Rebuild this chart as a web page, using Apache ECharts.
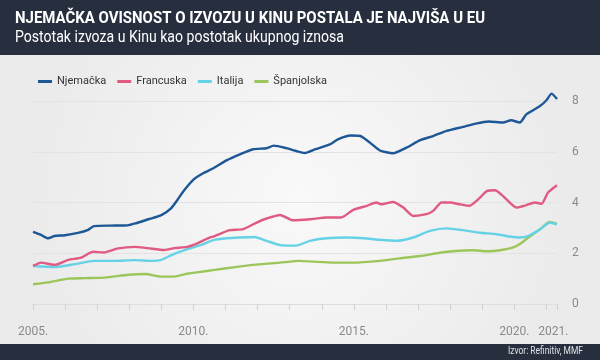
<!DOCTYPE html>
<html>
<head>
<meta charset="utf-8">
<script src="https://cdn.jsdelivr.net/npm/echarts@6/dist/echarts.min.js"></script>
<style>
html,body{margin:0;padding:0;background:#f0f0f0;}
#c{width:600px;height:360px;}
</style>
</head>
<body>
<div id="c"></div>
<script>
var titleText = 'NJEMAČKA OVISNOST O IZVOZU U KINU POSTALA JE NAJVIŠA U EU';
var subtitleText = 'Postotak izvoza u Kinu kao postotak ukupnog iznosa';
var sourceText = 'Izvor: Refinitiv, MMF';
var seriesNames = ['Njemačka', 'Francuska', 'Italija', 'Španjolska'];
var xTickLabels = [2005, 2010, 2015, 2020, 2021];
var yTicks = [0, 2, 4, 6, 8];

var germany = [[2005.0,2.84],[2005.25,2.72],[2005.47,2.59],[2005.67,2.68],[2006.0,2.71],[2006.4,2.8],[2006.7,2.91],[2006.9,3.07],[2007.4,3.09],[2007.95,3.10],[2008.2,3.18],[2008.6,3.34],[2009.0,3.5],[2009.3,3.77],[2009.5,4.1],[2009.7,4.46],[2010.0,4.9],[2010.3,5.15],[2010.62,5.35],[2011.03,5.66],[2011.45,5.9],[2011.86,6.1],[2012.28,6.14],[2012.5,6.24],[2012.9,6.14],[2013.2,6.03],[2013.47,5.95],[2013.8,6.1],[2014.25,6.29],[2014.5,6.49],[2014.9,6.64],[2015.2,6.62],[2015.5,6.36],[2015.81,6.05],[2016.22,5.94],[2016.64,6.16],[2017.05,6.45],[2017.47,6.62],[2017.89,6.82],[2018.4,6.98],[2018.8,7.11],[2019.2,7.19],[2019.65,7.15],[2019.9,7.24],[2020.17,7.15],[2020.38,7.48],[2020.8,7.8],[2021.0,8.03],[2021.16,8.29],[2021.33,8.08]];

var france = [[2005.0,1.5],[2005.26,1.63],[2005.67,1.54],[2006.1,1.74],[2006.5,1.83],[2006.87,2.06],[2007.2,2.03],[2007.65,2.19],[2008.17,2.25],[2008.58,2.2],[2009.1,2.13],[2009.4,2.2],[2009.8,2.25],[2010.1,2.38],[2010.45,2.59],[2010.62,2.66],[2011.13,2.91],[2011.55,2.95],[2011.97,3.21],[2012.28,3.37],[2012.7,3.51],[2013.1,3.3],[2013.63,3.34],[2014.15,3.41],[2014.6,3.41],[2014.98,3.71],[2015.4,3.87],[2015.7,4.0],[2015.85,3.93],[2016.22,4.02],[2016.54,3.8],[2016.85,3.47],[2017.26,3.54],[2017.47,3.67],[2017.73,4.0],[2018.0,4.0],[2018.3,3.93],[2018.6,3.87],[2018.93,4.19],[2019.14,4.45],[2019.4,4.48],[2019.65,4.25],[2020.07,3.8],[2020.38,3.9],[2020.64,4.0],[2020.85,3.95],[2021.05,4.39],[2021.33,4.68]];

var italy = [[2005.0,1.5],[2005.67,1.46],[2006.3,1.57],[2006.9,1.7],[2007.55,1.7],[2008.17,1.73],[2008.7,1.7],[2009.0,1.74],[2009.3,1.92],[2009.72,2.12],[2010.24,2.33],[2010.62,2.52],[2011.03,2.59],[2011.45,2.62],[2011.9,2.64],[2012.28,2.49],[2012.7,2.32],[2013.2,2.3],[2013.63,2.49],[2014.15,2.59],[2014.77,2.62],[2015.4,2.58],[2015.81,2.53],[2016.33,2.49],[2016.85,2.62],[2017.37,2.88],[2017.89,2.98],[2018.4,2.91],[2018.93,2.81],[2019.45,2.75],[2019.86,2.66],[2020.17,2.62],[2020.43,2.68],[2020.8,2.94],[2021.1,3.2],[2021.33,3.14]];

var spain = [[2005.0,0.78],[2005.47,0.85],[2006.1,1.0],[2006.6,1.02],[2007.23,1.04],[2007.96,1.15],[2008.5,1.18],[2009.0,1.08],[2009.4,1.08],[2009.83,1.2],[2010.3,1.28],[2011.03,1.41],[2011.86,1.54],[2012.7,1.63],[2013.3,1.7],[2013.73,1.67],[2014.36,1.63],[2014.98,1.63],[2015.81,1.7],[2016.43,1.8],[2017.05,1.89],[2017.68,2.02],[2018.1,2.08],[2018.72,2.12],[2019.14,2.08],[2019.65,2.14],[2019.97,2.23],[2020.17,2.36],[2020.48,2.66],[2020.8,2.94],[2021.1,3.23],[2021.33,3.16]];

var colors = ['#1d5796', '#e05a82', '#66d2e6', '#9cc55a'];
var FONT = 'Roboto, "Noto Sans", sans-serif';

// condensed look: measure natural widths, squeeze horizontally to the reference widths
var mctx = document.createElement('canvas').getContext('2d');
function fitScale(text, font, target) {
  mctx.font = font;
  var w = mctx.measureText(text).width;
  return w > 0 ? target / w : 1;
}
var titleFont = 'bold 17px ' + FONT;
var subFont = '17px ' + FONT;
var srcFont = '11px ' + FONT;
var titleScale = fitScale(titleText, titleFont, 470);
var subScale = fitScale(subtitleText, subFont, 329);
var srcScale = fitScale(sourceText, srcFont, 75);

var chart = echarts.init(document.getElementById('c'), null, {renderer: 'canvas'});

function mkSeries(name, data, color, z) {
  return {
    name: name, type: 'line', data: data, showSymbol: false, symbol: 'none',
    smooth: 0.2, clip: false, z: z,
    lineStyle: {color: color, width: 2.4},
    itemStyle: {color: color}
  };
}

chart.setOption({
  animation: false,
  backgroundColor: {
    type: 'radial', x: 0.5, y: 0.55, r: 0.75,
    colorStops: [{offset: 0, color: '#f9f9f9'}, {offset: 1, color: '#ebebeb'}]
  },
  graphic: [
    {type: 'rect', x: 0, y: 0, shape: {width: 600, height: 55}, style: {fill: '#272e3e'}, z: 0},
    {type: 'rect', x: 0, y: 344, shape: {width: 600, height: 16}, style: {fill: '#272e3e'}, z: 0},
    {type: 'text', x: 15, y: 10, scaleX: titleScale, z: 10,
      style: {text: titleText, fill: '#ffffff', font: titleFont, textAlign: 'left', textVerticalAlign: 'top'}},
    {type: 'text', x: 15, y: 29, scaleX: subScale, z: 10,
      style: {text: subtitleText, fill: '#ffffff', font: subFont, textAlign: 'left', textVerticalAlign: 'top'}},
    {type: 'text', x: 583, y: 346, scaleX: srcScale, z: 10,
      style: {text: sourceText, fill: '#dfe2e6', font: srcFont, textAlign: 'right', textVerticalAlign: 'top'}}
  ],
  legend: {
    left: 33, top: 71,
    itemWidth: 14, itemHeight: 3, itemGap: 11,
    icon: 'rect',
    textStyle: {fontFamily: FONT, fontSize: 11, color: '#333'},
    data: seriesNames
  },
  grid: {left: 33, right: 43, top: 101, bottom: 56},
  xAxis: {
    type: 'value', min: 2005, max: 2021.33, interval: 1,
    axisLine: {show: true, lineStyle: {color: '#dedede'}},
    axisTick: {show: true, length: 6, lineStyle: {color: '#d0d0d0'}},
    splitLine: {show: false},
    axisLabel: {
      margin: 22, color: '#8a8a8a', fontFamily: FONT, fontSize: 12,
      formatter: function (v) {
        var r = Math.round(v * 100) / 100;
        if (r === 2021) return '{s|' + r + '.}';
        return xTickLabels.indexOf(r) >= 0 ? r + '.' : '';
      },
      rich: {s: {padding: [0, 0, 0, 14], color: '#8a8a8a', fontFamily: FONT, fontSize: 12}}
    }
  },
  yAxis: {
    type: 'value', position: 'right', min: 0, max: 8, interval: 2,
    axisLine: {show: false}, axisTick: {show: false},
    splitLine: {lineStyle: {color: '#e3e3e3', width: 1}},
    axisLabel: {margin: 15, color: '#8a8a8a', fontFamily: FONT, fontSize: 12,
      formatter: function (v) { return yTicks.indexOf(v) >= 0 ? String(v) : ''; }}
  },
  series: [
    mkSeries(seriesNames[3], spain, colors[3], 2),
    mkSeries(seriesNames[2], italy, colors[2], 3),
    mkSeries(seriesNames[1], france, colors[1], 4),
    mkSeries(seriesNames[0], germany, colors[0], 5)
  ]
});
</script>
</body>
</html>
